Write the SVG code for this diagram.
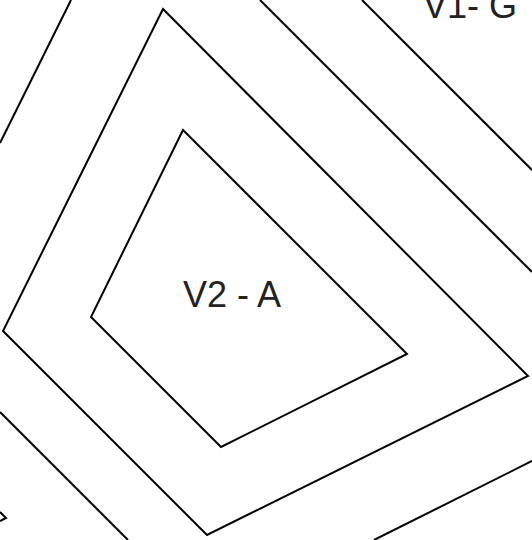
<svg xmlns="http://www.w3.org/2000/svg" width="532" height="540" viewBox="0 0 532 540">
<style>
.s{fill:none;stroke:#000;stroke-width:2;stroke-linejoin:miter}
.t{font-family:"Liberation Sans",Arial,sans-serif;font-size:36px;fill:#222}
</style>
<rect width="532" height="540" fill="#fff"/>
<g id="connectors">
<line class="s" x1="71" y1="0" x2="0" y2="143"/>
<line class="s" x1="260" y1="0" x2="532" y2="272"/>
<line class="s" x1="362" y1="0" x2="532" y2="170"/>
<line class="s" x1="0" y1="412" x2="128" y2="540"/>
<line class="s" x1="532" y1="461" x2="374" y2="540"/>
<polyline class="s" points="0,512 6,518 0,521"/>
</g>
<g id="node-v1">
<polygon class="s" points="163,9 528,376 207,535 3,331"/>
</g>
<g id="node-v2a">
<polygon class="s" points="183,130 407,354 221,447 91,317"/>
<text class="t" x="183" y="307">V2 - A</text>
</g>
<g id="node-v1g">
<text class="t" x="423" y="18">V1- G</text>
</g>
</svg>
